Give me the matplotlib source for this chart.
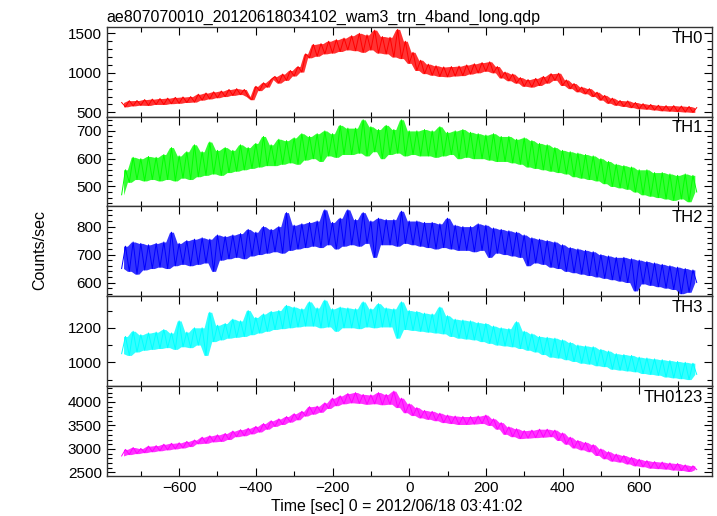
import matplotlib
matplotlib.use("Agg")
import matplotlib.pyplot as plt
from matplotlib.ticker import MultipleLocator
import numpy as np

plt.rcParams['font.family'] = ['Liberation Sans', 'DejaVu Sans']

title = "ae807070010_20120618034102_wam3_trn_4band_long.qdp"
xlabel = "Time [sec] 0 = 2012/06/18 03:41:02"
ylabel = "Counts/sec"

# time bins, -750 .. 750 sec, 10 sec apart
time = list(range(-750, 751, 10))

band_names = ["TH0", "TH1", "TH2", "TH3", "TH0123"]
band_colors = ["#ff0000", "#00ff00", "#0000ff", "#00ffff", "#ff00ff"]

# rates (one row = 100 sec)
th0 = [625, 570, 648, 582, 650, 590, 662, 588, 668, 600,
       675, 600, 680, 610, 690, 615, 695, 625, 700, 630,
       730, 655, 745, 670, 760, 685, 770, 700, 790, 715,
       800, 725, 790, 700, 660, 830, 775, 875, 820, 915,
       955, 870, 985, 905, 1030, 960, 1080, 1010, 1240, 1190,
       1360, 1210, 1370, 1240, 1400, 1250, 1420, 1270, 1440, 1290,
       1470, 1280, 1500, 1260, 1480, 1290, 1540, 1250, 1460, 1240,
       1450, 1200, 1550, 1180, 1400, 1120, 1260, 1030, 1160, 990,
       1110, 970, 1090, 955, 1075, 950, 1080, 960, 1085, 965,
       1100, 985, 1115, 1000, 1130, 1020, 1140, 1000, 1080, 935,
       1010, 900, 985, 870, 940, 830, 915, 820, 930, 840,
       955, 870, 990, 905, 995, 840, 910, 800, 865, 760,
       820, 735, 800, 700, 755, 655, 715, 615, 680, 590,
       650, 575, 645, 560, 625, 545, 610, 540, 600, 530,
       590, 520, 585, 515, 585, 510, 580, 505, 575, 500,
       560]

th1 = [470, 560, 515, 605, 525, 600, 520, 608, 525, 605,
       520, 615, 525, 640, 520, 610, 530, 625, 525, 650,
       535, 625, 540, 660, 545, 630, 540, 640, 550, 630,
       555, 650, 560, 640, 565, 655, 570, 680, 575, 650,
       575, 670, 580, 665, 585, 675, 580, 690, 595, 680,
       600, 690, 590, 700, 610, 690, 605, 720, 615, 710,
       615, 710, 620, 740, 610, 715, 625, 705, 600, 720,
       615, 705, 620, 740, 610, 700, 615, 700, 610, 705,
       610, 700, 605, 715, 610, 695, 615, 700, 600, 705,
       605, 695, 600, 690, 600, 685, 595, 690, 590, 680,
       590, 680, 585, 670, 580, 675, 570, 665, 565, 655,
       560, 650, 555, 640, 550, 630, 545, 625, 535, 620,
       530, 615, 525, 610, 520, 600, 510, 590, 500, 580,
       495, 575, 490, 570, 480, 560, 470, 560, 465, 550,
       460, 550, 455, 545, 450, 540, 455, 545, 445, 540,
       480]

th2 = [650, 730, 640, 745, 630, 740, 645, 735, 650, 740,
       655, 745, 650, 780, 660, 740, 665, 750, 660, 755,
       665, 760, 670, 755, 640, 770, 680, 765, 685, 770,
       690, 775, 685, 790, 695, 780, 700, 800, 705, 790,
       710, 800, 705, 850, 715, 805, 720, 810, 725, 815,
       730, 820, 725, 860, 735, 815, 720, 830, 730, 860,
       735, 825, 730, 850, 740, 820, 690, 830, 735, 825,
       735, 825, 730, 855, 740, 820, 735, 820, 730, 815,
       725, 815, 720, 810, 725, 830, 720, 805, 715, 800,
       715, 800, 710, 810, 715, 805, 690, 795, 705, 790,
       700, 785, 695, 780, 690, 770, 660, 760, 670, 755,
       665, 750, 655, 745, 650, 735, 640, 725, 635, 720,
       630, 715, 625, 710, 620, 700, 615, 695, 610, 690,
       605, 690, 600, 685, 570, 680, 595, 675, 590, 670,
       585, 665, 580, 660, 575, 655, 560, 650, 565, 645,
       600]

th3 = [1050, 1150, 1040, 1180, 1060, 1160, 1070, 1170, 1075, 1175,
       1080, 1190, 1085, 1170, 1075, 1240, 1090, 1175, 1085, 1200,
       1100, 1200, 1040, 1290, 1120, 1215, 1130, 1225, 1140, 1250,
       1145, 1240, 1150, 1300, 1160, 1260, 1170, 1280, 1180, 1295,
       1190, 1300, 1195, 1330, 1200, 1320, 1205, 1310, 1210, 1350,
       1210, 1315, 1200, 1360, 1205, 1310, 1180, 1320, 1200, 1315,
       1200, 1310, 1195, 1350, 1205, 1310, 1200, 1340, 1205, 1315,
       1205, 1310, 1140, 1350, 1190, 1300, 1185, 1295, 1180, 1285,
       1175, 1280, 1170, 1320, 1165, 1270, 1150, 1250, 1140, 1245,
       1135, 1240, 1130, 1230, 1120, 1225, 1110, 1210, 1100, 1200,
       1095, 1195, 1090, 1235, 1080, 1180, 1070, 1165, 1060, 1150,
       1045, 1145, 1030, 1140, 1025, 1130, 1015, 1115, 1005, 1100,
       995, 1095, 990, 1090, 980, 1075, 975, 1065, 960, 1050,
       955, 1045, 950, 1040, 945, 1030, 935, 1025, 930, 1020,
       925, 1015, 915, 1010, 910, 1005, 905, 1000, 900, 995,
       930]

th0123 = [2850, 2990, 2880, 3030, 2900, 3010, 2920, 3060, 2940, 3070,
          2960, 3100, 2980, 3120, 3000, 3130, 3020, 3160, 3050, 3190,
          3110, 3250, 3120, 3280, 3150, 3300, 3160, 3330, 3200, 3380,
          3260, 3410, 3280, 3440, 3320, 3480, 3360, 3540, 3420, 3600,
          3480, 3640, 3520, 3690, 3570, 3750, 3620, 3800, 3700, 3900,
          3740, 3910, 3780, 3980, 3860, 4080, 3920, 4130, 3960, 4180,
          3980, 4200, 3970, 4160, 3950, 4150, 3960, 4200, 3940, 4160,
          3950, 4230, 3880, 4080, 3770, 3960, 3710, 3880, 3660, 3820,
          3630, 3800, 3600, 3760, 3560, 3720, 3540, 3700, 3520, 3690,
          3520, 3690, 3530, 3700, 3540, 3720, 3500, 3640, 3420, 3560,
          3310, 3470, 3260, 3430, 3220, 3390, 3230, 3400, 3240, 3420,
          3250, 3420, 3260, 3400, 3180, 3340, 3100, 3250, 3020, 3180,
          2980, 3140, 2940, 3090, 2860, 3000, 2790, 2940, 2740, 2890,
          2720, 2860, 2680, 2820, 2640, 2780, 2620, 2750, 2590, 2730,
          2580, 2720, 2570, 2700, 2550, 2690, 2540, 2660, 2520, 2640,
          2560]

rates = [th0, th1, th2, th3, th0123]

# axis ranges and tick steps per panel
ylims = [(445, 1580), (428, 751), (551, 872), (863, 1383), (2430, 4340)]
ymajor = [500, 100, 100, 200, 500]
yminor = [100, 20, 20, 100, 100]

fig, axes = plt.subplots(5, 1, sharex=True, figsize=(7.17, 5.16), dpi=100)
fig.subplots_adjust(left=0.1488, right=0.9926, top=0.9477, bottom=0.0781, hspace=0)

t = np.array(time)
for i, ax in enumerate(axes):
    y = np.array(rates[i])
    # band spanning each pair of neighbouring bins (like the error bars in qdp)
    lo = np.minimum(y[:-1], y[1:])
    hi = np.maximum(y[:-1], y[1:])
    tm = (t[:-1] + t[1:]) / 2
    ax.fill_between(tm, lo, hi, color=band_colors[i], alpha=0.8, linewidth=0)
    ax.plot(time, rates[i], color=band_colors[i], linewidth=0.7)
    ax.set_xlim(-789, 789)
    ax.set_ylim(ylims[i])
    ax.xaxis.set_major_locator(MultipleLocator(200))
    ax.xaxis.set_minor_locator(MultipleLocator(100))
    ax.yaxis.set_major_locator(MultipleLocator(ymajor[i]))
    ax.yaxis.set_minor_locator(MultipleLocator(yminor[i]))
    ax.tick_params(which='both', direction='in', top=True, right=True,
                   labelsize=11, colors='black')
    ax.tick_params(which='major', length=6, width=0.8)
    ax.tick_params(which='minor', length=3.5, width=0.8)
    for s in ax.spines.values():
        s.set_linewidth(1.0)
        s.set_color('#333333')
    ax.text(0.986, 0.875, band_names[i], transform=ax.transAxes,
            ha='right', va='center', fontsize=12)

axes[0].set_title(title, loc='left', fontsize=11.5, pad=4)
fig.text(397 / 717, 0.018, xlabel, ha='center', va='center', fontsize=11.5)
fig.text(0.055, 0.515, ylabel, ha='center', va='center', rotation=90, fontsize=11.5)

plt.savefig("out.png", dpi=100)
